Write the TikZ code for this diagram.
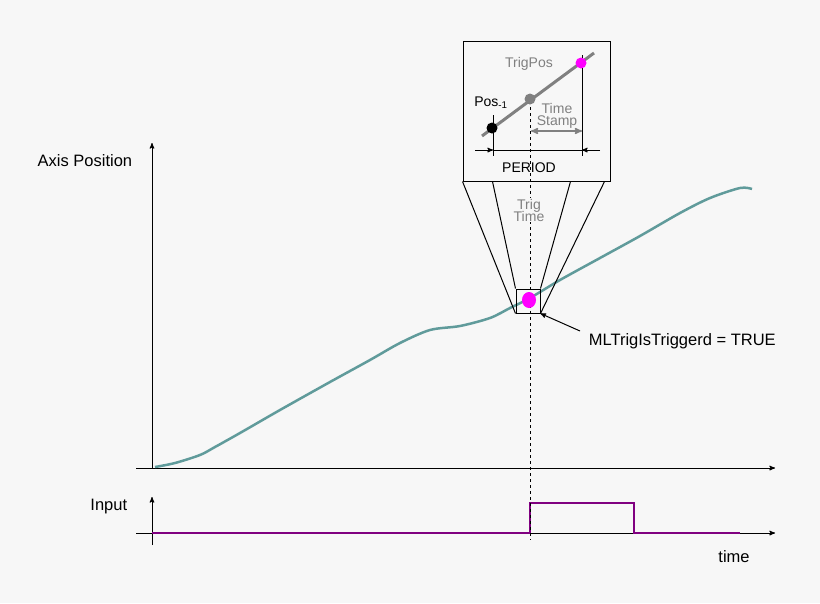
\documentclass[tikz,border=0pt]{standalone}
\usepackage{fontspec}
\setmainfont{Liberation Sans}
\usetikzlibrary{arrows}
\definecolor{bgcol}{RGB}{247,247,247}
\definecolor{curvecol}{RGB}{96,155,155}
\definecolor{pulsecol}{RGB}{128,0,128}
\definecolor{trigcol}{RGB}{255,0,255}
\tikzset{
  axisline/.style={black, line width=1pt, -stealth'},
  dimline/.style={black, line width=1pt},
  graytext/.style={gray, font=\fontsize{14}{15}\selectfont, align=center},
  label/.style={font=\fontsize{16.5}{18}\selectfont},
}
\begin{document}
\begin{tikzpicture}[x=1pt, y=-1pt, line width=1pt]
\fill[bgcol] (0,0) rectangle (820,603);
\useasboundingbox (0,0) rectangle (820,603);
%Axes
\coordinate (o) at (152,468);
\draw[axisline] (o) -- (152,143) coordinate (ytop);
\draw[axisline] (136,468) -- (775,468) coordinate (xend);
\draw[axisline] (152,545) -- (152,497) coordinate (itop);
\draw[axisline] (136,533) -- (775,533) coordinate (iend);
\node[label, anchor=east] (ylab) at (136,161) {Axis Position};
\node[label, anchor=east] (ilab) at (131,507) {Input};
\node[label] (tlab) at (734,557) {time};
% Axis position curve
\draw[curvecol, line width=2.5pt] plot[smooth, tension=.5] coordinates {(155,467) (175,463) (200,455) (215,447) (240,433) (280,410) (330,382) (370,360) (400,343) (430,330) (460,326) (490,318) (510,308) (530,298) (560,280) (600,258) (640,236) (680,213) (710,198) (740,188) (752,189)};
% Input signal
\draw[pulsecol, line width=2.5pt] (152,533) -- (530,533) -- (530,503) -- (634,503) -- (634,533) -- (740,533);
% Trigger
\draw[dashed] (530,95) -- (530,540);
\fill[trigcol] (529,300) ellipse (7pt and 8pt);
\node[draw, minimum width=24pt, minimum height=24pt, inner sep=0pt] (zoombox) at (528,301) {};
\node[draw, fill=bgcol, minimum width=147pt, minimum height=140pt, inner sep=0pt] (inset) at (536.5,111) {};
\draw (inset.south west) -- (zoombox.south west);
\draw ([xshift=30pt]inset.south west) -- (zoombox.north west);
\draw ([xshift=-40pt]inset.south east) -- (zoombox.north east);
\draw ([xshift=-6pt]inset.south east) -- (zoombox.south east);
\node[label, anchor=west] (trigmsg) at (585,341) {MLTrigIsTriggerd = TRUE};
\draw[-stealth'] (580,331) -- (zoombox.south east);
% Inset content
\draw[dashed] (530,95) -- (530,181);
\draw[gray, line width=3pt] (482,136) -- (594,53);
\draw[dimline] (493,115) -- (493,156);
\draw[dimline] (582,55) -- (582,156);
\fill (492,128) circle (5.5pt);
\fill[gray] (530,99) circle (5.5pt);
\fill[trigcol] (581,63) circle (5.5pt);
\node[font=\fontsize{14}{15}\selectfont] (poslab) at (491,103) {Pos\textsubscript{-1}};
\node[graytext] (trigpos) at (529,64) {TrigPos};
\node[graytext] (stamp) at (557,116) {Time\\[-3pt]Stamp};
\draw[gray, line width=1.5pt, stealth'-stealth'] (531,131) -- (582,131);
\draw[dimline] (493,150) -- (582,150);
\draw[-stealth'] (475,150) -- (493,150);
\draw[-stealth'] (600,150) -- (582,150);
\node[font=\fontsize{14}{15}\selectfont] (period) at (529,168) {PERIOD};
\node[graytext, fill=bgcol, inner sep=1pt] (trigtime) at (529,210) {Trig\\[-3pt]Time};
\end{tikzpicture}
\end{document}
